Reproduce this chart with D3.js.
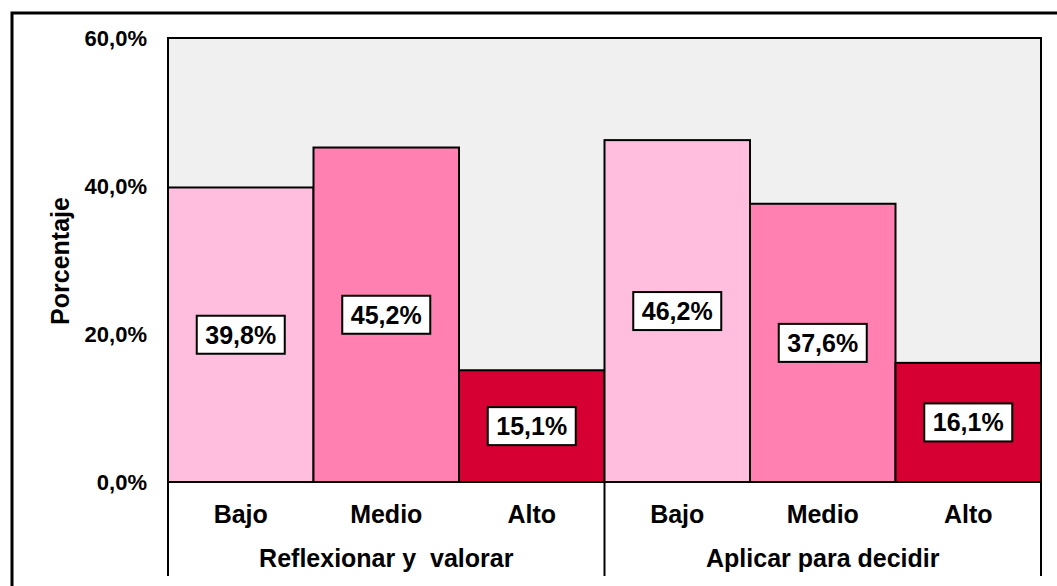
<!DOCTYPE html>
<html>
<head>
<meta charset="utf-8">
<script src="https://cdn.jsdelivr.net/npm/d3@7/dist/d3.min.js"></script>
<style>
  html, body { margin: 0; padding: 0; background: #fff; }
  svg { display: block; font-family: "Liberation Sans", Arial, sans-serif; }
</style>
</head>
<body>
<svg id="chart" width="1057" height="586"></svg>
<script>
const groups = ["Reflexionar y  valorar", "Aplicar para decidir"];
const levels = ["Bajo", "Medio", "Alto"];
const values = [
  [39.8, 45.2, 15.1],
  [46.2, 37.6, 16.1]
];
const yTicks = [0, 20, 40, 60];
const colors = ["#FFBEDD", "#FF80B1", "#D60032"];

const svg = d3.select("#chart");
const plot = { left: 168, right: 1041, top: 38, bottom: 482 };

// outer frame (left + top edges visible)
svg.append("path")
  .attr("d", "M12,586 L12,13 L1057,13")
  .attr("fill", "none").attr("stroke", "#000").attr("stroke-width", 3);

const data = [];
groups.forEach((g, gi) => levels.forEach((l, li) => data.push({ g, l, gi, li, v: values[gi][li], key: g + "|" + l })));

const x = d3.scaleBand().domain(data.map(d => d.key)).range([plot.left, plot.right]).padding(0);
const y = d3.scaleLinear().domain([0, 60]).range([plot.bottom, plot.top]);

// plot background
svg.append("rect")
  .attr("x", plot.left).attr("y", plot.top)
  .attr("width", plot.right - plot.left).attr("height", plot.bottom - plot.top)
  .attr("fill", "#F0F0F0").attr("stroke", "none");

// bars
svg.selectAll("rect.bar").data(data).enter().append("rect")
  .attr("class", "bar")
  .attr("x", d => x(d.key)).attr("y", d => y(d.v))
  .attr("width", x.bandwidth()).attr("height", d => y(0) - y(d.v))
  .attr("fill", d => colors[d.li]).attr("stroke", "#000").attr("stroke-width", 2);

// plot frame
svg.append("rect")
  .attr("x", plot.left).attr("y", plot.top)
  .attr("width", plot.right - plot.left).attr("height", plot.bottom - plot.top)
  .attr("fill", "none").attr("stroke", "#000").attr("stroke-width", 2);

// y axis tick labels
const fmt = v => v.toFixed(1).replace(".", ",") + "%";
svg.selectAll("text.ytick").data(yTicks).enter().append("text")
  .attr("x", 147).attr("y", d => y(d)).attr("dy", "0.35em")
  .attr("text-anchor", "end").attr("font-size", 22).attr("font-weight", "bold")
  .text(fmt);

// y title
svg.append("text")
  .attr("transform", `translate(69,${(plot.top + plot.bottom) / 2 + 1}) rotate(-90)`)
  .attr("text-anchor", "middle").attr("font-size", 25).attr("font-weight", "bold")
  .text("Porcentaje");

// value labels
const lab = svg.selectAll("g.lab").data(data).enter().append("g")
  .attr("class", "lab")
  .attr("transform", d => `translate(${x(d.key) + x.bandwidth() / 2},${(y(d.v) + y(0)) / 2})`);
lab.append("rect").attr("x", -44).attr("y", -19).attr("width", 88).attr("height", 38)
  .attr("fill", "#fff").attr("stroke", "#000").attr("stroke-width", 2);
lab.append("text").attr("text-anchor", "middle").attr("dy", "0.36em")
  .attr("font-size", 25).attr("font-weight", "bold")
  .text(d => fmt(d.v));

// category labels
svg.selectAll("text.cat").data(data).enter().append("text")
  .attr("x", d => x(d.key) + x.bandwidth() / 2).attr("y", 514).attr("dy", "0.35em")
  .attr("text-anchor", "middle").attr("font-size", 25).attr("font-weight", "bold")
  .text(d => d.l);

// group labels
groups.forEach((g, gi) => {
  const x0 = x(g + "|" + levels[0]);
  const x1 = x(g + "|" + levels[levels.length - 1]) + x.bandwidth();
  svg.append("text")
    .attr("x", (x0 + x1) / 2).attr("y", 558).attr("dy", "0.35em")
    .attr("text-anchor", "middle").attr("font-size", 25).attr("font-weight", "bold")
    .style("white-space", "pre")
    .text(g);
});

// group dividers
const divs = [plot.left, x(groups[1] + "|" + levels[0]), plot.right];
svg.selectAll("line.div").data(divs).enter().append("line")
  .attr("x1", d => d).attr("x2", d => d)
  .attr("y1", plot.bottom).attr("y2", 576)
  .attr("stroke", "#000").attr("stroke-width", 2);
</script>
</body>
</html>
